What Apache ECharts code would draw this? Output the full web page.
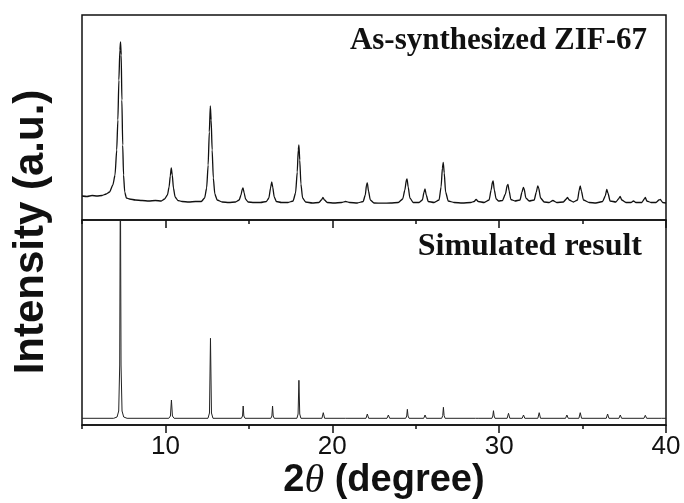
<!DOCTYPE html>
<html>
<head>
<meta charset="utf-8">
<script src="https://cdn.jsdelivr.net/npm/echarts@6.0.0/dist/echarts.min.js"></script>
<style>
  html, body { margin: 0; padding: 0; background: #fff; }
  #chart { width: 684px; height: 503px; }
</style>
</head>
<body>
<div id="chart"></div>
<script>
  // 2theta (degree) / intensity (a.u.)
  var expTheta = [5.00, 5.30, 5.60, 5.90, 6.20, 6.45, 6.65, 6.85, 6.98, 7.08, 7.15, 7.21, 7.27, 7.31, 7.35, 7.39, 7.44, 7.49, 7.56, 7.66, 7.85,
    8.20, 8.60, 9.00, 9.40, 9.75, 9.95, 10.12, 10.22, 10.29, 10.35, 10.41, 10.48, 10.58, 10.75, 11.00, 11.40, 11.80, 12.15, 12.35,
    12.47, 12.56, 12.63, 12.69, 12.74, 12.80, 12.87, 12.96, 13.10, 13.40, 13.80, 14.20, 14.42, 14.53, 14.60, 14.65, 14.72, 14.80,
    14.95, 15.30, 15.70, 16.05, 16.20, 16.30, 16.37, 16.43, 16.52, 16.65, 16.95, 17.35, 17.65, 17.80, 17.90, 17.96, 18.00, 18.05,
    18.12, 18.22, 18.40, 18.80, 19.20, 19.35, 19.44, 19.53, 19.70, 20.10, 20.55, 20.80, 21.05, 21.50, 21.85, 21.98, 22.05, 22.10,
    22.17, 22.28, 22.50, 23.00, 23.50, 23.95, 24.22, 24.35, 24.44, 24.48, 24.55, 24.65, 24.85, 25.20, 25.40, 25.50, 25.56, 25.63,
    25.75, 26.10, 26.40, 26.52, 26.60, 26.65, 26.71, 26.79, 26.95, 27.30, 27.80, 28.30, 28.50, 28.62, 28.75, 29.10, 29.40, 29.52,
    29.60, 29.64, 29.71, 29.82, 29.97, 30.20, 30.38, 30.48, 30.53, 30.60, 30.70, 30.95, 31.25, 31.37, 31.45, 31.50, 31.60, 31.80,
    32.10, 32.23, 32.31, 32.37, 32.48, 32.70, 33.00, 33.22, 33.45, 33.85, 34.02, 34.10, 34.20, 34.45, 34.70, 34.80, 34.86, 34.93,
    35.05, 35.40, 35.80, 36.20, 36.36, 36.45, 36.52, 36.65, 37.00, 37.15, 37.25, 37.35, 37.60, 37.90, 38.05, 38.20, 38.55, 38.70,
    38.76, 38.85, 39.10, 39.40, 39.58, 39.66, 39.80, 40.00];
  var expIntensity = [24, 23.5, 24.5, 24, 24.5, 26, 28, 35, 45, 70, 100, 140, 170, 178, 165, 120, 75, 45, 28, 22, 21,
    20, 19.5, 19, 19.5, 19, 21, 25, 33, 44, 52, 45, 32, 23, 19.5, 18.5, 18, 18.5, 18.5, 22,
    32, 55, 88, 114, 100, 70, 42, 26, 20, 18, 17.5, 18, 20, 25, 30.5, 32, 27, 21,
    18, 17.5, 17.5, 18.5, 22, 32, 38, 33, 23, 18.5, 17.5, 17.5, 19, 27, 48, 70, 75, 60,
    36, 22, 18, 17, 17.5, 20, 22.5, 20, 17.5, 17, 17.5, 18.5, 17.5, 17, 18.5, 25, 35, 37,
    29, 20, 17, 16.8, 17, 17.5, 21, 30, 40, 41, 33, 22, 17.5, 17.5, 20, 28, 31, 25,
    18.5, 17.5, 20, 33, 52, 57.5, 47, 28, 19, 17.5, 17, 17.5, 18.5, 20.5, 18.5, 17.5, 20, 30,
    38, 39, 30, 21, 19, 19.5, 26, 34.5, 35.5, 29, 20.5, 19, 20, 28, 32.5, 31, 22, 19,
    20, 28, 34, 32, 22, 18, 17.5, 19.5, 17.5, 18, 21, 22.5, 20, 18, 20, 30, 34, 29,
    20, 17.5, 17, 18.5, 24, 30.5, 27, 19, 18, 21, 23.5, 20, 17.5, 17.5, 19, 17.5, 17.5, 21,
    22.5, 19, 17.5, 17.5, 20, 20.5, 17.5, 17];

  var simTheta = [5.00, 6.90, 7.10, 7.20, 7.26, 7.30, 7.34, 7.40, 7.50, 7.70,
    10.20, 10.30, 10.36, 10.42, 10.52, 12.55, 12.64, 12.70, 12.76, 12.85,
    14.55, 14.62, 14.66, 14.70, 14.77, 16.32, 16.38, 16.42, 16.46, 16.52,
    17.88, 17.95, 18.00, 18.05, 18.12, 19.38, 19.46, 19.54, 20.78, 20.86, 20.94,
    22.02, 22.10, 22.18, 23.28, 23.36, 23.44, 24.40, 24.46, 24.50, 24.54, 24.60,
    25.48, 25.56, 25.64, 26.56, 26.62, 26.66, 26.70, 26.76, 28.58, 28.66, 28.74,
    29.57, 29.62, 29.66, 29.70, 29.75, 30.48, 30.56, 30.64, 31.38, 31.46, 31.54,
    32.32, 32.40, 32.48, 33.98, 34.06, 34.14, 34.78, 34.86, 34.94, 36.42, 36.50, 36.58,
    37.18, 37.26, 37.34, 38.68, 38.76, 38.84, 39.58, 39.66, 39.74, 40.00];
  var simIntensity = [6.7, 6.7, 8, 14, 60, 260, 60, 14, 8, 6.7,
    6.7, 9, 25, 9, 6.7, 6.7, 12, 86.7, 12, 6.7,
    6.7, 9, 19, 9, 6.7, 6.7, 9, 19, 9, 6.7,
    6.7, 11, 44.7, 11, 6.7, 6.7, 12.3, 6.7, 6.7, 8.3, 6.7,
    6.7, 11, 6.7, 6.7, 10, 6.7, 6.7, 9, 15.7, 9, 6.7,
    6.7, 10, 6.7, 6.7, 9.5, 17.7, 9.5, 6.7, 6.7, 8.3, 6.7,
    6.7, 9, 14.3, 9, 6.7, 6.7, 11.7, 6.7, 6.7, 10, 6.7,
    6.7, 12.3, 6.7, 6.7, 10, 6.7, 6.7, 12.3, 6.7, 6.7, 11, 6.7,
    6.7, 10, 6.7, 6.7, 9.7, 6.7, 6.7, 8.3, 6.7, 6.7];

  var majorTicks = [10, 20, 30, 40];
  var minorTicks = [5, 15, 25, 35];

  function zip(xs, ys) {
    return xs.map(function (x, i) { return [x, ys[i]]; });
  }

  var ink = '#111';
  var myChart = echarts.init(document.getElementById('chart'));

  var option = {
    animation: false,
    backgroundColor: '#fff',
    grid: [
      { left: 82, right: 18, top: 15, bottom: 283, show: true, borderColor: ink, borderWidth: 1.5 },
      { left: 82, right: 18, top: 220, bottom: 78, show: true, borderColor: ink, borderWidth: 1.5 }
    ],
    xAxis: [
      { gridIndex: 0, type: 'value', min: 5, max: 40, show: false },
      { // bottom axis, major ticks + labels
        gridIndex: 1, type: 'value', min: 5, max: 40, position: 'bottom',
        axisLine: { show: true, lineStyle: { color: ink, width: 1.5 } },
        axisTick: { show: true, customValues: majorTicks, length: 8, lineStyle: { color: ink, width: 1.5 } },
        axisLabel: { customValues: majorTicks, fontSize: 26, color: ink, margin: 9, fontFamily: 'Liberation Sans' },
        splitLine: { show: false }
      },
      { // bottom axis, minor ticks
        gridIndex: 1, type: 'value', min: 5, max: 40, position: 'bottom',
        axisLine: { show: false },
        axisTick: { show: true, customValues: minorTicks, length: 4, lineStyle: { color: ink, width: 1.5 } },
        axisLabel: { show: false },
        splitLine: { show: false }
      },
      { // divider, major ticks pointing down
        gridIndex: 1, type: 'value', min: 5, max: 40, position: 'top',
        axisLine: { show: false },
        axisTick: { show: true, inside: true, customValues: majorTicks, length: 8, lineStyle: { color: ink, width: 1.5 } },
        axisLabel: { show: false },
        splitLine: { show: false }
      },
      { // divider, minor ticks
        gridIndex: 1, type: 'value', min: 5, max: 40, position: 'top',
        axisLine: { show: false },
        axisTick: { show: true, inside: true, customValues: minorTicks, length: 4, lineStyle: { color: ink, width: 1.5 } },
        axisLabel: { show: false },
        splitLine: { show: false }
      }
    ],
    yAxis: [
      { gridIndex: 0, type: 'value', min: 0, max: 205, show: false },
      { gridIndex: 1, type: 'value', min: 0, max: 205, show: false }
    ],
    series: [
      {
        name: 'As-synthesized ZIF-67', type: 'line', xAxisIndex: 0, yAxisIndex: 0,
        data: zip(expTheta, expIntensity), showSymbol: false,
        smooth: 0.2, smoothMonotone: 'x',
        lineStyle: { color: ink, width: 1.3 }
      },
      {
        name: 'Simulated result', type: 'line', xAxisIndex: 1, yAxisIndex: 1,
        data: zip(simTheta, simIntensity), showSymbol: false, clip: true,
        lineStyle: { color: '#222', width: 1 }
      }
    ],
    graphic: [
      { type: 'text', x: 647, y: 41, style: { text: 'As-synthesized ZIF-67', font: 'bold 31px "Liberation Serif"', fill: ink, textAlign: 'right', textVerticalAlign: 'middle' } },
      { type: 'text', x: 642, y: 247, style: { text: 'Simulated result', font: 'bold 32px "Liberation Serif"', fill: ink, textAlign: 'right', textVerticalAlign: 'middle' } },
      { type: 'text', x: 31, y: 232, rotation: Math.PI / 2, style: { text: 'Intensity (a.u.)', font: 'bold 42px "Liberation Sans"', fill: ink, textAlign: 'center', textVerticalAlign: 'middle' } },
      {
        type: 'text', x: 384, y: 481,
        style: {
          text: '{a|2}{b|θ}{a| (degree)}', textAlign: 'center', textVerticalAlign: 'middle', fill: ink,
          rich: {
            a: { fontFamily: 'Liberation Sans', fontWeight: 'bold', fontSize: 38, fill: ink },
            b: { fontFamily: 'Liberation Serif', fontStyle: 'italic', fontSize: 40, fill: ink }
          }
        }
      }
    ]
  };
  myChart.setOption(option);
</script>
</body>
</html>
